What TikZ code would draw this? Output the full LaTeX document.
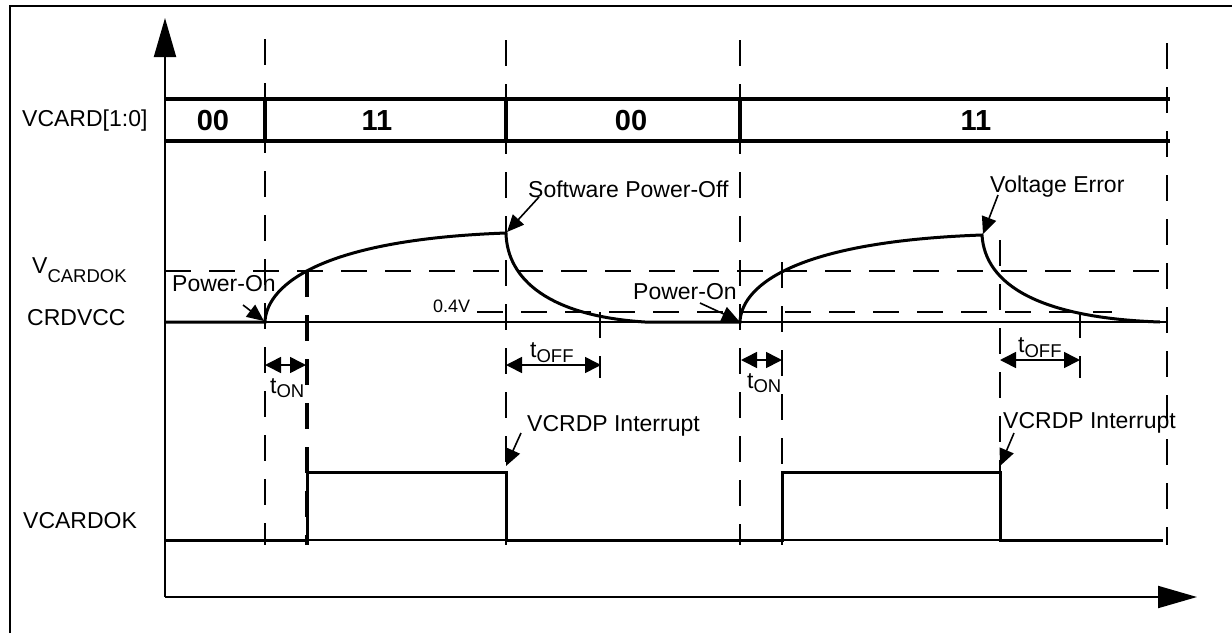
\documentclass[tikz,border=0pt]{standalone}
\usepackage{fontspec}
\setmainfont{Liberation Sans}
\usetikzlibrary{arrows.meta}
\newcommand\mysub[2]{\raisebox{-#1pt}{\fontsize{18.5}{20}\selectfont #2}}
\tikzset{
  lbl/.style={inner sep=0pt, font=\fontsize{23}{26}\selectfont},
  small/.style={inner sep=0pt, font=\fontsize{18}{20}\selectfont},
  buslbl/.style={inner sep=0pt, anchor=base, font=\bfseries\fontsize{29}{30}\selectfont},
  dsh/.style={line width=2pt, dash pattern=on 26pt off 18pt},
  thickdsh/.style={line width=4pt, dash pattern=on 26pt off 18pt},
  wave/.style={line width=3pt},
  thin/.style={line width=2pt},
  buswire/.style={line width=4pt},
  ann/.style={line width=1.6pt, -{Triangle[length=17pt,width=15pt]}},
  span/.style={line width=1.6pt, {Triangle[length=16pt,width=16pt]}-{Triangle[length=16pt,width=16pt]}},
  axis/.style={line width=2pt, -{Triangle[length=39pt,width=22pt]}}
}
\begin{document}
\begin{tikzpicture}[x=1pt,y=-1pt]
\useasboundingbox (0,0) rectangle (1232,633);
% frame
\draw[line width=2.3pt] (10,633) -- (10,6) -- (1232,6);
% axes
\coordinate (O) at (165,597);
\coordinate (ytip) at (165,18);
\coordinate (xtip) at (1197,597);
\draw[axis] (O) -- (ytip);
\draw[axis] (O) -- (xtip);
% vertical dashed guides
\draw[dsh] (265,39) -- (265,545);
\draw[dsh] (506,40) -- (506,545);
\draw[dsh] (740,40) -- (740,545);
\draw[dsh] (1167,43) -- (1167,545);
\draw[thickdsh] (307,271) -- (307,545);
\draw[dsh] (600,312) -- (600,378);
\draw[dsh] (782,262) -- (782,545);
\draw[dsh] (1000,240) -- (1000,545);
\draw[dsh] (1080,312) -- (1080,378);
% horizontal dashed levels
\draw[dsh] (165,271) -- (1167,271);
\draw[dsh] (477,312) -- (1112,312);
% bus VCARD[1:0]
\draw[buswire] (165,99) -- (1170,99);
\draw[buswire] (165,141) -- (1170,141);
\foreach \x in {265,506,740} \draw[buswire] (\x,99) -- (\x,143);
\node[buslbl] (b1) at (213,130) {00};
\node[buslbl] (b2) at (377,130) {11};
\node[buslbl] (b3) at (631,130) {00};
\node[buslbl] (b4) at (976,130) {11};
% CRDVCC waveform
\draw[thin] (165,322) -- (1168,322);
\draw[wave] (165,322) -- (265,322)
  .. controls (266,290) and (310,240) .. (506,233)
  .. controls (507,280) and (550,316) .. (645,322) -- (740,322)
  .. controls (741,290) and (785,242) .. (982,235)
  .. controls (985,285) and (1040,318) .. (1160,322);
% VCARDOK waveform
\draw[thin] (165,540) -- (1163,540);
\draw[wave] (165,540) -- (307,540) -- (307,472) -- (506,472) -- (506,540)
  -- (782,540) -- (782,472) -- (1000,472) -- (1000,540) -- (1163,540);
% signal names
\node[lbl, anchor=base west] (nvcard) at (22,126) {VCARD[1:0]};
\node[lbl, anchor=base west] (nvok) at (32,273) {V\mysub{9}{CARDOK}};
\node[lbl, anchor=base west] (ncrd) at (27,325) {CRDVCC};
\node[lbl, anchor=base west] (nok) at (23,528) {VCARDOK};
% annotations
\node[lbl, anchor=base west] (po1) at (172,291) {Power-On};
\node[lbl, anchor=base west] (po2) at (633,299) {Power-On};
\node[small, anchor=base west] (v04) at (433,312) {0.4V};
\node[lbl, anchor=base west] (spo) at (528,197) {Software Power-Off};
\node[lbl, anchor=base west] (ve) at (990,192) {Voltage Error};
\node[lbl, anchor=base west] (int1) at (527,431) {VCRDP Interrupt};
\node[lbl, anchor=base west] (int2) at (1003,428) {VCRDP Interrupt};
\coordinate (po1s) at (243,305); \coordinate (po1e) at (264,321);
\coordinate (po2s) at (700,303); \coordinate (po2e) at (739,321);
\coordinate (spos) at (539,197); \coordinate (spoe) at (507,232);
\coordinate (ves) at (998,195); \coordinate (vee) at (983,234);
\coordinate (i1s) at (521,433); \coordinate (i1e) at (506,466);
\coordinate (i2s) at (1014,433); \coordinate (i2e) at (1000,466);
\draw[ann] (po1s) -- (po1e);
\draw[ann] (po2s) -- (po2e);
\draw[ann] (spos) -- (spoe);
\draw[ann] (ves) -- (vee);
\draw[ann] (i1s) -- (i1e);
\draw[ann] (i2s) -- (i2e);
% timing spans
\coordinate (on1a) at (265,365); \coordinate (on1b) at (306,365);
\coordinate (off1a) at (506,365); \coordinate (off1b) at (601,365);
\coordinate (on2a) at (741,360); \coordinate (on2b) at (782,360);
\coordinate (off2a) at (1000,360); \coordinate (off2b) at (1080,360);
\draw[span] (on1a) -- (on1b);
\draw[span] (off1a) -- (off1b);
\draw[span] (on2a) -- (on2b);
\draw[span] (off2a) -- (off2b);
\node[lbl, anchor=base west] (ton1) at (270,393) {t\mysub{4}{ON}};
\node[lbl, anchor=base west] (toff1) at (530,357) {t\mysub{5}{OFF}};
\node[lbl, anchor=base west] (ton2) at (747,388) {t\mysub{4}{ON}};
\node[lbl, anchor=base west] (toff2) at (1018,352) {t\mysub{5}{OFF}};
\end{tikzpicture}
\end{document}
